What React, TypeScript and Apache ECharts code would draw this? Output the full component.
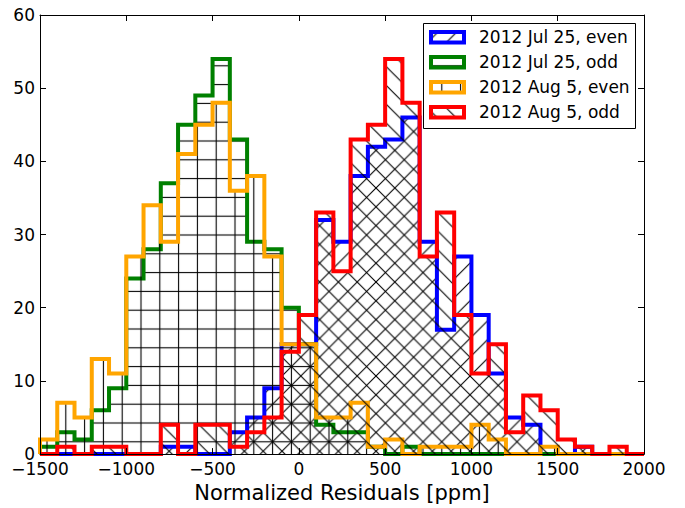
import React, { useEffect, useRef } from 'react';
import * as echarts from 'echarts';

// Histogram bin edges (ppm)
const binEdges = [
  -1500, -1400, -1300, -1200, -1100, -1000, -900, -800, -700, -600, -500, -400,
  -300, -200, -100, 0, 100, 200, 300, 400, 500, 600, 700, 800, 900, 1000, 1100,
  1200, 1300, 1400, 1500, 1600, 1700, 1800, 1900, 2000,
];

// Counts per bin (35 bins)
const jul25Even = [0, 0, 0, 0, 0, 0, 0, 1, 1, 0, 0, 3, 5, 9, 15, 15, 32, 29, 38, 42, 43, 46, 29, 17, 27, 19, 11, 5, 4, 0, 0, 1, 0, 0, 0];
const jul25Odd = [1, 3, 2, 6, 9, 24, 28, 37, 45, 49, 54, 43, 29, 28, 20, 15, 4, 3, 3, 1, 0, 1, 0, 0, 0, 0, 0, 0, 0, 0, 0, 0, 0, 0, 0];
const aug5Even = [2, 7, 5, 13, 11, 27, 34, 29, 41, 45, 48, 36, 38, 27, 15, 15, 5, 5, 7, 1, 2, 0, 1, 1, 1, 4, 2, 0, 0, 1, 0, 0, 0, 0, 0];
const aug5Odd = [0, 1, 0, 1, 1, 0, 0, 4, 0, 4, 4, 1, 3, 5, 14, 19, 33, 25, 43, 45, 54, 48, 27, 33, 19, 11, 15, 3, 8, 6, 2, 1, 0, 1, 0];

const seriesNames = ['2012 Jul 25, even', '2012 Jul 25, odd', '2012 Aug 5, even', '2012 Aug 5, odd'];
const seriesData = [jul25Even, jul25Odd, aug5Even, aug5Odd];
const seriesColors = ['#0000ff', '#008000', '#ffa500', '#ff0000'];
const seriesHatch = ['/', '-', '|', '\\'];

const xAxisTitle = 'Normalized Residuals [ppm]';
const FONT = 'DejaVu Sans';
const S = 18.8;

function hatchPattern(kind: string) {
  let d = '';
  if (kind === '/') {
    d = `M-1,${S + 1} L${S + 1},-1 M-1,1 L1,-1 M${S - 1},${S + 1} L${S + 1},${S - 1}`;
  } else if (kind === '\\') {
    d = `M-1,-1 L${S + 1},${S + 1} M${S - 1},-1 L${S + 1},1 M-1,${S - 1} L1,${S + 1}`;
  } else if (kind === '|') {
    d = `M${S / 2},-1 L${S / 2},${S + 1}`;
  } else {
    d = `M-1,${S / 2} L${S + 1},${S / 2}`;
  }
  const svg = `<svg xmlns="http://www.w3.org/2000/svg" width="${S}" height="${S}" viewBox="0 0 ${S} ${S}"><path d="${d}" stroke="#000" stroke-width="1.1" fill="none"/></svg>`;
  return {
    image: 'data:image/svg+xml;charset=utf-8,' + encodeURIComponent(svg),
    repeat: 'repeat',
    imageWidth: S,
    imageHeight: S,
  } as any;
}

function toSteps(counts: number[]) {
  const pts: number[][] = [[binEdges[0], 0]];
  counts.forEach((c, i) => pts.push([binEdges[i], c]));
  pts.push([binEdges[counts.length], counts[counts.length - 1]]);
  pts.push([binEdges[counts.length], 0]);
  return pts;
}

const fmt = (v: number) => String(v).replace('-', '\u2212');

export default function App() {
  const ref = useRef<HTMLDivElement>(null);
  useEffect(() => {
    const chart = echarts.init(ref.current!, null, { renderer: 'svg' });
    const legendTop = 37.3;
    const legendGap = 25;
    const legendItems: any[] = [
      {
        type: 'rect',
        z: 100,
        shape: { x: 423.5, y: 23.5, width: 212, height: 105 },
        style: { fill: '#fff', stroke: '#000', lineWidth: 1 },
      },
    ];
    seriesNames.forEach((name, i) => {
      const cy = legendTop + i * legendGap;
      legendItems.push({
        type: 'rect',
        z: 101,
        shape: { x: 431, y: cy - 5.2, width: 33, height: 10.4 },
        style: { fill: hatchPattern(seriesHatch[i]), stroke: seriesColors[i], lineWidth: 4 },
      });
      legendItems.push({
        type: 'text',
        z: 101,
        x: 479,
        y: cy,
        style: { text: name, font: `17px "${FONT}"`, fill: '#000', verticalAlign: 'middle', align: 'left' },
      });
    });

    const axisCommon = {
      type: 'value',
      axisLine: { show: true, onZero: false, lineStyle: { color: '#000', width: 1 } },
      axisTick: { show: true, inside: true, length: 6, lineStyle: { color: '#000', width: 1 } },
      splitLine: { show: false },
      z: 10,
    };

    chart.setOption({
      animation: false,
      backgroundColor: '#fff',
      grid: { left: 40, right: 41, top: 15, bottom: 50 },
      xAxis: [
        {
          ...axisCommon,
          position: 'bottom',
          min: -1500,
          max: 2000,
          interval: 500,
          axisLabel: { color: '#000', fontSize: 17, fontFamily: FONT, margin: 6, formatter: fmt },
          name: xAxisTitle,
          nameLocation: 'middle',
          nameGap: 24,
          nameTextStyle: { color: '#000', fontSize: 21, fontFamily: FONT },
        },
        {
          ...axisCommon,
          position: 'top',
          min: -1500,
          max: 2000,
          interval: 500,
          axisLabel: { show: false },
        },
      ],
      yAxis: [
        {
          ...axisCommon,
          position: 'left',
          min: 0,
          max: 60,
          interval: 10,
          axisLabel: { color: '#000', fontSize: 17, fontFamily: FONT, margin: 5, formatter: fmt },
        },
        {
          ...axisCommon,
          position: 'right',
          min: 0,
          max: 60,
          interval: 10,
          axisLabel: { show: false },
        },
      ],
      series: seriesNames.map((name, i) => ({
        type: 'line',
        name,
        xAxisIndex: 0,
        yAxisIndex: 0,
        step: 'end',
        symbol: 'none',
        silent: true,
        clip: true,
        z: 2 + i,
        data: toSteps(seriesData[i]),
        lineStyle: { color: seriesColors[i], width: 4, join: 'miter', cap: 'butt' },
        itemStyle: { color: seriesColors[i] },
        areaStyle: { color: hatchPattern(seriesHatch[i]), opacity: 1, origin: 'start' },
      })),
      graphic: legendItems,
    });
    return () => chart.dispose();
  }, []);
  return (
    <div
      ref={ref}
      style={{ position: 'fixed', left: 0, top: 0, width: 685, height: 508, background: '#fff' }}
    />
  );
}
